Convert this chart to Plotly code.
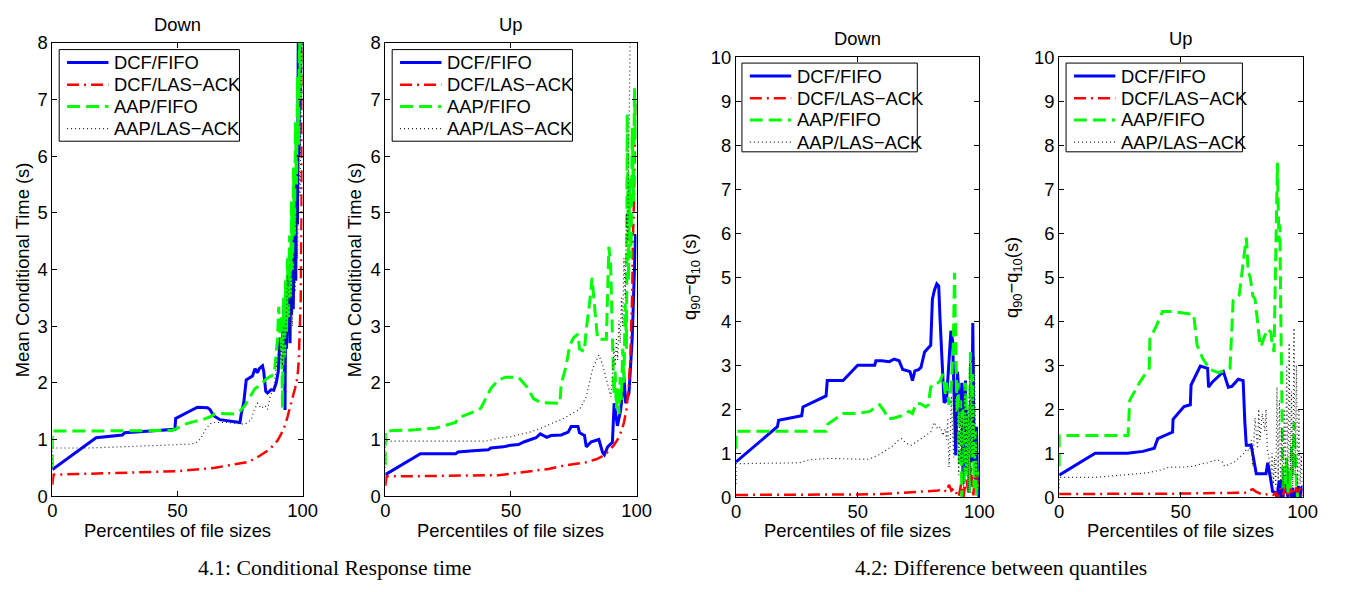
import plotly.graph_objects as go

W, H = 1352, 592

series_names = ["DCF/FIFO", "DCF/LAS−ACK", "AAP/FIFO", "AAP/LAS−ACK"]
panel_titles = ["Down", "Up", "Down", "Up"]
y_titles = ["Mean Conditional Time (s)", "Mean Conditional Time (s)",
            "q<sub>90</sub>−q<sub>10</sub> (s)", "q<sub>90</sub>−q<sub>10</sub>(s)"]
x_title = "Percentiles of file sizes"
captions = ["4.1: Conditional Response time", "4.2: Difference between quantiles"]
x_ticks = [0, 50, 100]
y_ticks_mean = [0, 1, 2, 3, 4, 5, 6, 7, 8]
y_ticks_q = [0, 1, 2, 3, 4, 5, 6, 7, 8, 9, 10]

# ---------------- Panel 1: Mean conditional time, Down ----------------
p1_dcf_fifo_x = [0, 17, 17.5, 28, 29, 49, 49.3, 58, 62, 63, 64.5, 67, 73, 75, 75.5, 76.5, 77.5, 79, 80, 81, 82,
                 82.7, 84, 84.5, 85.3, 86, 87.5, 88.5, 89.5, 90.3, 91, 91.5, 92, 92.5, 93, 93.3, 93.6, 94, 94.3,
                 94.6, 95, 95.3, 95.6, 96, 96.3, 96.6, 97, 97.3, 97.6, 98, 98.3, 98.6, 99, 99.3, 99.6, 100]
p1_dcf_fifo_y = [0.47, 1.0, 1.03, 1.08, 1.12, 1.18, 1.37, 1.57, 1.56, 1.53, 1.42, 1.35, 1.32, 1.30, 1.45, 1.65,
                 2.05, 2.1, 2.12, 2.25, 2.18, 2.25, 2.3, 2.2, 1.85, 1.82, 1.88, 1.87, 2.0, 2.2, 2.8, 2.65, 2.75,
                 3.3, 1.52, 3.8, 2.6, 3.6, 2.9, 3.9, 2.7, 4.1, 3.2, 4.65, 3.3, 4.4, 5.6, 3.8, 6.2, 4.8, 8.2, 6.0,
                 8.2, 7.0, 8.2, 8.2]
p1_dcf_las_x = [0, 0.5, 10, 20, 30, 40, 50, 55, 60, 65, 70, 75, 78, 81, 84, 86, 88, 90, 91.5, 93, 94, 95, 96,
                96.5, 97, 97.5, 98, 98.5, 99, 99.3, 99.6, 99.8, 100]
p1_dcf_las_y = [0.2, 0.38, 0.39, 0.4, 0.41, 0.42, 0.44, 0.46, 0.48, 0.5, 0.54, 0.57, 0.6, 0.66, 0.74, 0.8, 0.88,
                0.98, 1.1, 1.25, 1.4, 1.55, 1.7, 1.82, 1.9, 2.0, 2.1, 2.4, 3.0, 3.5, 5.0, 6.5, 8.2]
p1_aap_fifo_x = [0, 0, 15, 30, 48, 50, 53, 57, 60, 63, 65, 67, 73, 75, 77, 79, 81, 83, 85, 86.5, 88.7, 90,
                 90.5, 91, 91.5, 92, 92.4, 92.8, 93.2, 93.6, 94, 94.4, 94.8, 95.2, 95.6, 96, 96.4, 96.8, 97.2,
                 97.6, 98, 98.4, 98.8, 99.2, 99.6, 100]
p1_aap_fifo_y = [0.5, 1.15, 1.15, 1.15, 1.16, 1.2, 1.27, 1.32, 1.35, 1.4, 1.45, 1.46, 1.45, 1.5, 1.6, 1.75,
                 1.9, 1.95, 2.05, 2.1, 2.15, 2.77, 3.34, 2.85, 3.2, 1.55, 3.5, 2.4, 3.8, 2.9, 4.2, 3.1, 4.6, 3.5,
                 5.2, 4.0, 5.8, 4.6, 6.6, 5.5, 7.4, 6.2, 8.2, 7.0, 8.2, 8.2]
p1_aap_las_x = [0, 0, 15, 30, 45, 55, 57, 58.5, 60, 61.5, 63.8, 65, 70, 74, 77, 79.5, 80.5, 82, 83.5, 85, 86,
                87, 88.6, 89, 90, 90.5, 91, 91.5, 92, 92.5, 93, 93.5, 94, 94.5, 95, 95.5, 96, 96.5, 97, 97.5,
                98, 98.5, 99, 99.5, 100]
p1_aap_las_y = [0.5, 0.85, 0.85, 0.87, 0.9, 0.92, 0.93, 0.98, 1.07, 1.2, 1.3, 1.3, 1.3, 1.28, 1.27, 1.35, 1.5,
                1.64, 1.55, 1.6, 1.53, 1.75, 1.92, 2.1, 2.38, 2.6, 2.35, 2.7, 2.3, 3.0, 2.4, 3.3, 3.9, 3.5, 2.8,
                3.9, 3.0, 4.3, 3.6, 5.0, 4.2, 6.0, 5.3, 7.65, 8.2]

# ---------------- Panel 2: Mean conditional time, Up ----------------
p2_dcf_fifo_x = [0, 14, 28, 29, 35, 41, 42, 47, 50, 53, 55.4, 58, 60, 61.7, 64.3, 66, 68.2, 70, 72.8, 74,
                 76.7, 77.3, 79.3, 80, 82, 85, 86.5, 87.2, 88.5, 89.8, 90.4, 91.1, 92.4, 93.7, 95, 95.7, 97,
                 98.3, 99, 99.6, 100]
p2_dcf_fifo_y = [0.38, 0.75, 0.75, 0.78, 0.8, 0.82, 0.85, 0.87, 0.9, 0.91, 0.96, 1.0, 1.03, 1.1, 1.04, 1.07,
                 1.07, 1.08, 1.13, 1.23, 1.23, 1.12, 1.07, 0.87, 0.96, 1.0, 0.77, 0.73, 0.87, 0.93, 0.95, 1.64,
                 1.24, 1.52, 2.1, 1.64, 1.82, 2.8, 3.6, 4.6, 4.6]
p2_dcf_las_x = [0, 0.5, 10, 20, 30, 40, 45, 50, 55, 60, 65, 70, 75, 80, 84, 87, 89, 91, 92.5, 94, 95, 96, 96.5,
                97, 97.5, 98, 98.3, 98.6, 99, 99.3, 99.6, 100]
p2_dcf_las_y = [0.18, 0.35, 0.35, 0.36, 0.36, 0.37, 0.37, 0.4, 0.42, 0.45, 0.48, 0.53, 0.56, 0.6, 0.65, 0.72,
                0.8, 0.9, 1.0, 1.15, 1.3, 1.53, 1.75, 2.0, 2.4, 3.2, 3.6, 4.6, 5.2, 6.2, 6.9, 7.0]
p2_aap_fifo_x = [0, 0, 12, 20, 28, 29, 36, 38, 42, 45, 48, 53, 56.5, 59, 62, 69.5, 70, 72, 73.4, 75, 76.7,
                 77.3, 79.2, 80, 81.3, 82.3, 83, 84, 84.5, 88, 88.5, 89, 89.7, 90.3, 91, 91.5, 92, 92.5, 93,
                 93.5, 94, 94.5, 95, 95.5, 96, 96.3, 96.8, 97.3, 97.8, 98.3, 98.8, 99.2, 99.6, 100]
p2_aap_fifo_y = [0.55, 1.15, 1.17, 1.2, 1.3, 1.38, 1.5, 1.55, 1.9, 2.05, 2.1, 2.1, 1.92, 1.72, 1.65, 1.64, 1.97,
                 2.3, 2.66, 2.8, 2.86, 2.6, 2.55, 2.94, 3.4, 3.85, 3.5, 2.9, 2.77, 2.77, 3.7, 4.4, 4.1, 3.0, 1.8,
                 2.2, 1.55, 1.9, 1.45, 2.1, 1.7, 2.6, 2.0, 3.4, 2.6, 6.74, 3.8, 5.6, 4.2, 6.5, 5.2, 7.2, 6.3, 7.0]
p2_aap_las_x = [0, 0, 15, 30, 40, 44.7, 50, 57.5, 62, 66, 70.5, 74, 77.3, 80, 82.6, 85, 86.5, 88.5, 89.8, 90.5,
                91, 91.5, 92, 92.5, 93, 93.5, 94, 94.5, 95, 95.5, 96, 96.5, 97, 97.5, 100]
p2_aap_las_y = [0.5, 0.97, 0.97, 0.97, 0.97, 1.02, 1.05, 1.13, 1.2, 1.28, 1.36, 1.45, 1.53, 1.75, 2.26, 2.49,
                2.32, 1.98, 1.75, 2.2, 2.6, 2.3, 2.8, 2.4, 3.1, 2.7, 3.5, 3.0, 4.2, 3.5, 5.0, 4.5, 6.2, 8.2, 8.2]

# ---------------- Panel 3: q90 - q10, Down ----------------
p3_dcf_fifo_x = [0, 17, 17.5, 27, 27.5, 37, 37.5, 44, 50, 57, 57.5, 60, 63, 65, 67, 68.5, 70, 71.5, 72.5, 73.5,
                 75, 76, 77.5, 79, 80, 80.7, 81.5, 82.5, 83.3, 83.8, 84.3, 85.5, 86.5, 87.5, 88.3, 89, 89.6,
                 90.3, 91, 91.7, 92.3, 92.8, 93.3, 93.8, 94.3, 94.8, 95.3, 95.8, 96.3, 96.8, 97.3, 97.8, 98.3,
                 98.8, 99.3, 100]
p3_dcf_fifo_y = [0.8, 1.6, 1.75, 1.85, 2.05, 2.3, 2.65, 2.65, 3.0, 3.0, 3.1, 3.1, 3.08, 3.14, 3.1, 2.9, 2.88,
                 2.85, 2.65, 2.87, 2.9, 2.95, 3.3, 3.4, 3.45, 4.5, 4.7, 4.85, 4.8, 4.1, 3.4, 2.15, 2.2, 3.0,
                 3.78, 3.55, 2.5, 0.95, 2.85, 2.2, 1.7, 2.6, 0.3, 1.9, 2.65, 0.5, 1.5, 0.1, 2.2, 0.8, 3.96, 1.2,
                 0.4, 1.6, 0.1, 0.0]
p3_dcf_las_x = [0, 10, 30, 50, 60, 70, 75, 80, 83, 85, 86.5, 87.5, 88.5, 89.5, 90.5, 91.5, 92.5, 93.5, 94.5,
                95.5, 96.5, 97.5, 98.5, 99.5]
p3_dcf_las_y = [0.05, 0.05, 0.05, 0.06, 0.07, 0.1, 0.12, 0.13, 0.15, 0.18, 0.12, 0.28, 0.15, 0.2, 0.1, 0.0,
                0.3, 0.0, 0.45, 0.1, 0.7, 0.0, 0.8, 0.1]
p3_aap_fifo_x = [0, 0, 15, 30, 37, 37.5, 40, 44, 50, 55, 57.5, 59, 61, 62.5, 65, 68, 71, 72.5, 74, 76, 78, 79,
                 80, 81.5, 83, 84, 85, 86, 86.5, 87, 87.5, 88.5, 89.3, 89.8, 90.3, 90.8, 91.3, 91.8, 92.3, 92.8,
                 93.3, 93.8, 94.3, 94.8, 95.3, 95.8, 96.3, 96.8, 97.3, 97.8, 98.3, 98.8, 99.3]
p3_aap_fifo_y = [1.1, 1.5, 1.5, 1.5, 1.5, 1.65, 1.75, 1.9, 1.9, 1.95, 2.05, 2.1, 1.95, 1.78, 1.8, 1.85, 1.95,
                 1.9, 2.13, 2.12, 2.05, 2.1, 2.5, 2.6, 2.6, 2.65, 2.8, 2.35, 2.6, 2.3, 2.1, 2.6, 3.5, 5.1, 3.5,
                 1.9, 2.6, 0.7, 2.2, 0.0, 2.0, 0.3, 2.6, 0.5, 1.8, 0.1, 3.3, 0.9, 2.8, 0.2, 1.5, 0.0, 0.6]
p3_aap_las_x = [0, 0, 26, 30, 38, 50, 54.5, 58.6, 61, 64, 66.7, 68, 70, 72, 74, 76, 78, 80, 81.4, 82.9, 84,
                85, 86, 86.5, 87, 87.5, 88, 88.5, 89, 89.5, 90, 90.5, 91, 91.5, 92, 92.5, 93, 93.5, 94, 94.5,
                95, 95.5, 96, 96.5, 97, 97.5, 98, 98.5, 99, 99.5]
p3_aap_las_y = [0.3, 0.76, 0.78, 0.85, 0.88, 0.86, 0.86, 0.96, 1.05, 1.15, 1.29, 1.33, 1.22, 1.18, 1.25, 1.32,
                1.4, 1.48, 1.7, 1.55, 1.6, 1.4, 1.55, 1.3, 1.8, 0.68, 1.2, 2.3, 1.5, 0.9, 2.4, 1.2, 2.0, 0.5,
                2.2, 0.8, 1.8, 0.2, 2.5, 0.6, 2.0, 0.1, 3.1, 0.5, 2.3, 0.9, 3.2, 0.4, 1.4, 0.1]

# ---------------- Panel 4: q90 - q10, Up ----------------
p4_dcf_fifo_x = [0, 14.8, 28, 34.4, 39.1, 40.5, 46.6, 46.8, 51.3, 53.9, 54.2, 58, 61, 61.4, 63, 67.5, 69.5,
                 71, 73.6, 75.6, 76.3, 76.9, 78.9, 79.6, 81, 85, 85.7, 87, 87.7, 89, 89.5, 90.4, 91, 91.5, 92,
                 92.5, 93, 93.5, 94, 94.5, 95, 95.5, 96, 96.5, 97, 97.5, 98, 98.5, 99, 99.5, 100]
p4_dcf_fifo_y = [0.5, 1.0, 1.0, 1.04, 1.11, 1.33, 1.48, 1.77, 2.06, 2.1, 2.55, 2.98, 2.93, 2.5, 2.62, 2.85,
                 2.5, 2.52, 2.68, 2.65, 1.7, 1.18, 1.18, 0.96, 0.53, 0.53, 0.78, 0.38, 0.13, 0.1, 0.0, 0.38, 0.0,
                 0.4, 0.0, 0.5, 0.1, 0.2, 0.0, 0.3, 0.1, 0.0, 0.2, 0.0, 0.15, 0.0, 0.1, 0.25, 0.0, 0.1, 0.25]
p4_dcf_las_x = [0, 10, 30, 50, 60, 70, 75, 77, 78, 79.5, 81, 82.5, 84, 86, 88, 89, 90, 91, 92, 93, 94, 95, 96,
                97, 98, 99, 100]
p4_dcf_las_y = [0.07, 0.07, 0.07, 0.08, 0.09, 0.1, 0.1, 0.1, 0.15, 0.18, 0.12, 0.08, 0.05, 0.07, 0.05, 0.1,
                0.0, 0.2, 0.05, 0.25, 0.0, 0.2, 0.05, 0.25, 0.1, 0.2, 0.0]
p4_aap_fifo_x = [0, 0, 15, 28.3, 29, 33, 37, 37.3, 40, 42.5, 46.6, 52, 55.3, 56.7, 59, 62, 65.5, 70.2, 71.5,
                 72.5, 74, 75.5, 76.9, 77.3, 77.6, 78.5, 79.6, 80.5, 81.5, 82.5, 83, 84, 85.7, 87, 87.5, 88.3,
                 89, 89.7, 90.3, 90.7, 91, 91.5, 92, 92.5, 93, 93.5, 94, 94.5, 95, 95.5, 96, 96.5, 97, 97.5, 98]
p4_aap_fifo_y = [0.7, 1.4, 1.4, 1.4, 2.2, 2.6, 2.93, 3.6, 3.9, 4.22, 4.22, 4.18, 4.15, 3.45, 3.15, 2.9, 2.83,
                 2.93, 4.47, 4.5, 4.6, 5.28, 5.9, 5.6, 5.13, 5.0, 4.58, 4.5, 4.0, 3.5, 3.42, 3.6, 3.82, 3.75,
                 3.5, 3.3, 5.5, 7.6, 5.8, 6.2, 4.5, 2.0, 0.2, 0.7, 0.3, 0.9, 0.1, 0.6, 0.2, 1.2, 0.5, 1.7, 0.8,
                 0.3, 0.0]
p4_aap_las_x = [0, 0, 15, 30, 36, 42, 45, 50, 55, 58, 61, 63, 65, 67, 68, 70, 72, 74, 76, 77, 78, 79, 79.5,
                80.5, 81.5, 82, 82.5, 83.5, 84.5, 85, 85.5, 86.5, 87, 87.5, 88, 88.5, 89, 89.5, 90, 90.5, 91,
                91.5, 92, 92.5, 93, 93.5, 94, 94.5, 95, 95.5, 96, 96.5, 97, 97.5, 98, 98.5, 99, 99.5, 100]
p4_aap_las_y = [0.2, 0.45, 0.45, 0.52, 0.55, 0.62, 0.68, 0.68, 0.7, 0.75, 0.78, 0.82, 0.85, 0.8, 0.7, 0.75,
                0.8, 0.9, 1.0, 1.1, 1.05, 1.3, 0.7, 1.8, 1.1, 2.0, 1.3, 1.9, 1.5, 2.0, 1.1, 0.8, 0.4, 1.0, 0.3,
                0.9, 0.2, 2.5, 0.4, 2.2, 0.3, 1.6, 0.2, 2.0, 0.5, 3.0, 0.3, 3.5, 0.6, 2.4, 0.2, 3.85, 0.5, 3.0,
                0.1, 2.0, 0.3, 1.0, 0.1]

panels = [
    [(p1_dcf_fifo_x, p1_dcf_fifo_y), (p1_dcf_las_x, p1_dcf_las_y), (p1_aap_fifo_x, p1_aap_fifo_y), (p1_aap_las_x, p1_aap_las_y)],
    [(p2_dcf_fifo_x, p2_dcf_fifo_y), (p2_dcf_las_x, p2_dcf_las_y), (p2_aap_fifo_x, p2_aap_fifo_y), (p2_aap_las_x, p2_aap_las_y)],
    [(p3_dcf_fifo_x, p3_dcf_fifo_y), (p3_dcf_las_x, p3_dcf_las_y), (p3_aap_fifo_x, p3_aap_fifo_y), (p3_aap_las_x, p3_aap_las_y)],
    [(p4_dcf_fifo_x, p4_dcf_fifo_y), (p4_dcf_las_x, p4_dcf_las_y), (p4_aap_fifo_x, p4_aap_fifo_y), (p4_aap_las_x, p4_aap_las_y)],
]

# ---------------- styles / layout ----------------
line_styles = [
    dict(color="#0000FF", width=3, dash="solid"),
    dict(color="#FF0000", width=2.5, dash="12px,5px,2px,5px"),
    dict(color="#00FF00", width=3, dash="13px,6px"),
    dict(color="#222222", width=1.2, dash="1px,3px"),
]

# plot-area pixel boxes: (left, right, top, bottom)
boxes = [(48, 302, 33, 503), (386, 641, 33, 503), (742, 989, 48, 504), (1070, 1317, 48, 504)]
# legend boxes: (left, top, width, height)
legend_boxes = [(55, 40, 183, 95), (393, 40, 183, 95), (748, 54, 178, 92), (1077, 54, 179, 92)]
legend_row_dy = [13.5, 36.5, 59, 82]
title_y = [14, 14, 28, 28]
ylabel_x = [18, 355, 697, 1023]
caption_pos = [(335, 577), (1011, 577)]
xlabel_y = 539

FONT = "Liberation Sans, Arial, Helvetica, sans-serif"
SERIF = "Liberation Serif, Times New Roman, serif"
FS = 18.4


def px(x):
    return x / W


def py(y):
    return 1 - y / H


fig = go.Figure()
for p, pdata in enumerate(panels):
    sfx = "" if p == 0 else str(p + 1)
    for s, (xs, ys) in enumerate(pdata):
        fig.add_trace(go.Scatter(
            x=xs, y=ys, mode="lines", name=series_names[s],
            line=line_styles[s], xaxis="x" + sfx, yaxis="y" + sfx,
            showlegend=False,
        ))

layout = dict(width=W, height=H, margin=dict(l=0, r=0, t=0, b=0),
              paper_bgcolor="white", plot_bgcolor="white",
              font=dict(family=FONT, size=FS, color="black"))

annotations = []
shapes = []
for p, (l, r, t, b) in enumerate(boxes):
    sfx = "" if p == 0 else str(p + 1)
    yr = [0, 8] if p < 2 else [0, 10]
    yt = y_ticks_mean if p < 2 else y_ticks_q
    common = dict(showline=True, linecolor="black", linewidth=1, mirror="ticks",
                  ticks="inside", ticklen=5, tickcolor="black", showgrid=False,
                  zeroline=False, tickfont=dict(family=FONT, size=FS, color="black"))
    layout["xaxis" + sfx] = dict(domain=[px(l), px(r)], range=[0, 100], tickvals=x_ticks,
                                 anchor="y" + sfx, ticklabelstandoff=-2, **common)
    layout["yaxis" + sfx] = dict(domain=[py(b), py(t)], range=yr, tickvals=yt,
                                 anchor="x" + sfx, **common)
    cx = (l + r) / 2
    annotations.append(dict(text=panel_titles[p], x=px(cx), y=py(title_y[p]), xref="paper", yref="paper",
                            xanchor="center", yanchor="middle", showarrow=False,
                            font=dict(family=FONT, size=FS, color="black")))
    annotations.append(dict(text=x_title, x=px(cx), y=py(xlabel_y), xref="paper", yref="paper",
                            xanchor="center", yanchor="middle", showarrow=False,
                            font=dict(family=FONT, size=FS, color="black")))
    annotations.append(dict(text=y_titles[p], x=px(ylabel_x[p]), y=py((t + b) / 2), xref="paper",
                            yref="paper", xanchor="center", yanchor="middle", showarrow=False, textangle=-90,
                            font=dict(family=FONT, size=FS, color="black")))
    # legend (box, line samples, labels)
    lx, ly, lw, lh = legend_boxes[p]
    shapes.append(dict(type="rect", xref="paper", yref="paper", x0=px(lx), x1=px(lx + lw),
                       y0=py(ly + lh), y1=py(ly), line=dict(color="black", width=1),
                       fillcolor="white", layer="above"))
    for s in range(4):
        yy = ly + legend_row_dy[s]
        st = line_styles[s]
        shapes.append(dict(type="line", xref="paper", yref="paper", x0=px(lx + 8), x1=px(lx + 50),
                           y0=py(yy), y1=py(yy), layer="above",
                           line=dict(color=st["color"], width=st["width"], dash=st["dash"])))
        annotations.append(dict(text=series_names[s], x=px(lx + 54), y=py(yy), xref="paper", yref="paper",
                                xanchor="left", yanchor="middle", showarrow=False,
                                font=dict(family=FONT, size=FS, color="black")))

for c, (cx, cy) in zip(captions, caption_pos):
    annotations.append(dict(text=c, x=px(cx), y=py(cy), xref="paper", yref="paper",
                            xanchor="center", yanchor="middle", showarrow=False,
                            font=dict(family=SERIF, size=21.7, color="black")))
layout["annotations"] = annotations
layout["shapes"] = shapes
fig.update_layout(**layout)

fig.write_html("out.html", config={"displayModeBar": False},
               post_script="document.body.style.margin='0';document.body.style.overflow='hidden';")
